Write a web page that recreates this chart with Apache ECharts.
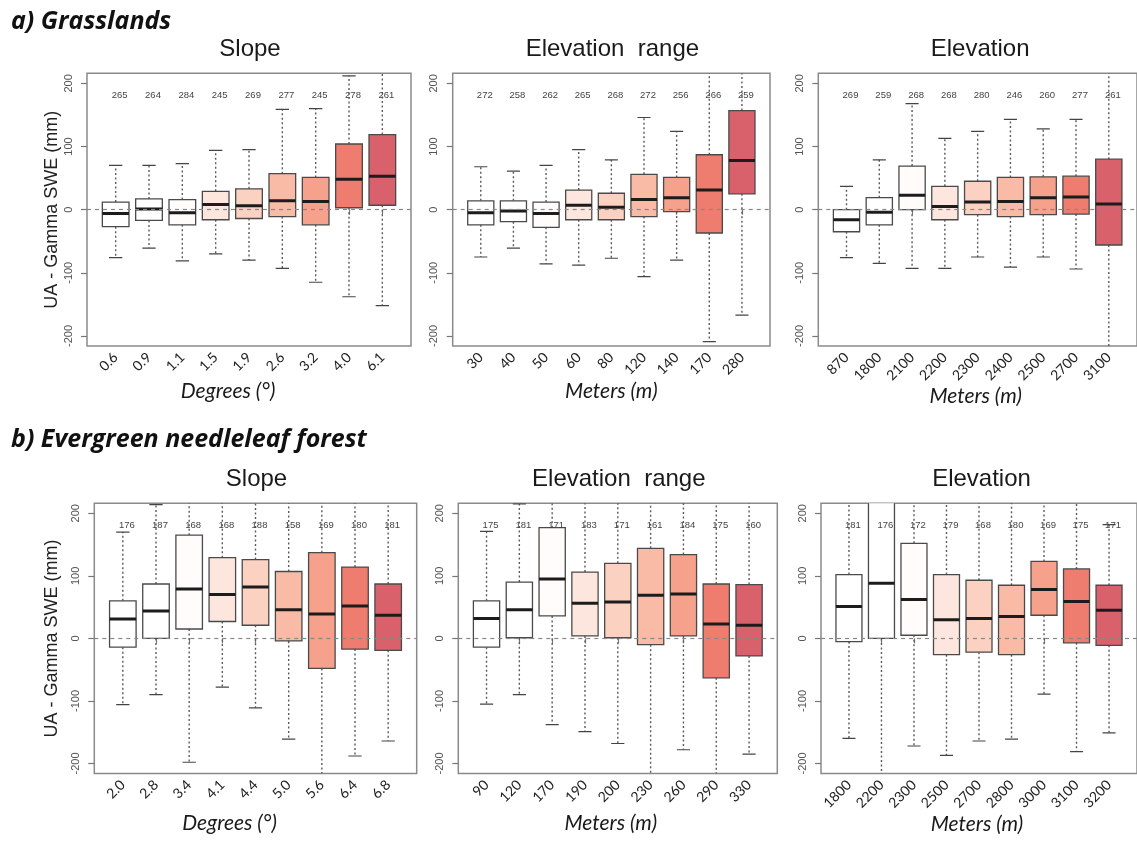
<!DOCTYPE html>
<html>
<head>
<meta charset="utf-8">
<script src="https://cdn.jsdelivr.net/npm/echarts@6.0.0/dist/echarts.min.js"></script>
<style>
  html, body { margin: 0; padding: 0; background: #fff; }
  #chart-container { width: 1137px; height: 842px; }
</style>
</head>
<body>
<div id="chart-container"></div>
<script>
// five-number summaries: [lower whisker, q1, median, q3, upper whisker]
// whiskers running off the plot are given as +/-260 and get clipped
const grassSlopeCats = ['0.6', '0.9', '1.1', '1.5', '1.9', '2.6', '3.2', '4.0', '6.1'];
const grassSlopeStats = [
  [-76, -27, -6, 12, 70],
  [-61, -17, 1, 17, 70],
  [-81, -24, -5, 16, 73],
  [-70, -16, 8, 29, 94],
  [-80, -14, 6, 33, 95],
  [-93, -11, 14, 57, 159],
  [-115, -24, 13, 51, 160],
  [-138, 3, 48, 104, 212],
  [-152, 7, 53, 119, 260],
];
const grassSlopeN = [265, 264, 284, 245, 269, 277, 245, 278, 261];

const grassRangeCats = ['30', '40', '50', '60', '80', '120', '140', '170', '280'];
const grassRangeStats = [
  [-75, -24, -5, 14, 68],
  [-61, -19, -2, 14, 61],
  [-86, -28, -6, 12, 70],
  [-88, -16, 7, 31, 95],
  [-77, -16, 4, 26, 79],
  [-106, -11, 16, 56, 146],
  [-80, -3, 19, 51, 124],
  [-209, -37, 31, 87, 260],
  [-167, 25, 78, 157, 260],
];
const grassRangeN = [272, 258, 262, 265, 268, 272, 256, 266, 259];

const grassElevCats = ['870', '1800', '2100', '2200', '2300', '2400', '2500', '2700', '3100'];
const grassElevStats = [
  [-76, -35, -16, 0, 37],
  [-85, -24, -4, 19, 79],
  [-93, 0, 23, 69, 168],
  [-93, -16, 5, 37, 113],
  [-75, -8, 12, 45, 124],
  [-91, -11, 13, 51, 143],
  [-75, -8, 19, 52, 128],
  [-94, -7, 20, 53, 143],
  [-260, -56, 9, 80, 260],
];
const grassElevN = [269, 259, 268, 268, 280, 246, 260, 277, 261];

const forestSlopeCats = ['2.0', '2.8', '3.4', '4.1', '4.4', '5.0', '5.6', '6.4', '6.8'];
const forestSlopeStats = [
  [-106, -14, 31, 60, 170],
  [-90, 0, 44, 87, 214],
  [-198, 15, 79, 165, 260],
  [-78, 27, 70, 129, 260],
  [-111, 21, 82, 126, 260],
  [-161, -4, 46, 107, 260],
  [-260, -48, 39, 137, 260],
  [-188, -17, 52, 114, 260],
  [-164, -19, 37, 87, 260],
];
const forestSlopeN = [176, 187, 168, 168, 188, 158, 169, 180, 181];

const forestRangeCats = ['90', '120', '170', '190', '200', '230', '260', '290', '330'];
const forestRangeStats = [
  [-105, -14, 32, 60, 171],
  [-90, 1, 46, 90, 215],
  [-138, 36, 95, 177, 260],
  [-149, 4, 56, 106, 260],
  [-168, 1, 58, 120, 260],
  [-260, -10, 69, 144, 260],
  [-178, 4, 71, 134, 260],
  [-260, -63, 23, 87, 260],
  [-185, -28, 21, 86, 260],
];
const forestRangeN = [175, 181, 171, 183, 171, 161, 184, 175, 160];

const forestElevCats = ['1800', '2200', '2300', '2500', '2700', '2800', '3000', '3100', '3200'];
const forestElevStats = [
  [-160, -5, 51, 102, 260],
  [-260, 0, 88, 240, 260],
  [-172, 5, 62, 152, 260],
  [-187, -26, 30, 102, 260],
  [-164, -22, 32, 93, 260],
  [-161, -26, 35, 85, 260],
  [-89, 37, 78, 123, 260],
  [-181, -7, 59, 111, 260],
  [-151, -11, 45, 85, 182],
];
const forestElevN = [181, 176, 172, 179, 168, 180, 169, 175, 171];

const yTicks = [-200, -100, 0, 100, 200];
const boxColors = ['#ffffff', '#ffffff', '#fffcfb', '#fde6de', '#fbd2c2', '#f9bba6', '#f5a18b', '#ef7d6f', '#d8616c'];

const YMAX = 216;
const COUNT_Y = 181;
const BOX_W = 0.8;

const panels = [
  { cats: grassSlopeCats, stats: grassSlopeStats, n: grassSlopeN, title: 'Slope',
    rect: { left: 87, top: 73.3, width: 324, height: 272.7 },
    xName: 'Degrees (°)', xGap: 35, xPad: [0, 42, 0, 0], yName: 'UA - Gamma SWE (mm)', yGap: 26 },
  { cats: grassRangeCats, stats: grassRangeStats, n: grassRangeN, title: 'Elevation  range',
    rect: { left: 452.7, top: 73.3, width: 317.3, height: 272.7 },
    xName: 'Meters (m)', xGap: 35, xPad: 0 },
  { cats: grassElevCats, stats: grassElevStats, n: grassElevN, title: 'Elevation',
    rect: { left: 818.3, top: 73.3, width: 321.7, height: 272.7 },
    xName: 'Meters (m)', xGap: 35, xPad: [0, 4, 0, 0] },
  { cats: forestSlopeCats, stats: forestSlopeStats, n: forestSlopeN, title: 'Slope',
    rect: { left: 94.3, top: 503.3, width: 322.4, height: 270.2 },
    xName: 'Degrees (°)', xGap: 39, xPad: [0, 52, 0, 0], yName: 'UA - Gamma SWE (mm)', yGap: 33 },
  { cats: forestRangeCats, stats: forestRangeStats, n: forestRangeN, title: 'Elevation  range',
    rect: { left: 458.3, top: 503.3, width: 319, height: 270.2 },
    xName: 'Meters (m)', xGap: 39, xPad: [0, 14, 0, 0] },
  { cats: forestElevCats, stats: forestElevStats, n: forestElevN, title: 'Elevation',
    rect: { left: 821, top: 503.3, width: 319, height: 270.2 },
    xName: 'Meters (m)', xGap: 39, xPad: [0, 4, 0, 0] },
];

const renderBox = (params, api) => {
  const x = api.value(0);
  const lo = api.coord([x, api.value(1)]);
  const q1 = api.coord([x, api.value(2)]);
  const med = api.coord([x, api.value(3)]);
  const q3 = api.coord([x, api.value(4)]);
  const hi = api.coord([x, api.value(5)]);
  const lab = api.coord([x, COUNT_Y]);
  const w = api.size([BOX_W, 0])[0];
  const cx = med[0];
  const half = w / 2;
  const cap = w / 4;
  const dotted = { stroke: '#5a5a5a', lineWidth: 1.4, lineDash: [2, 2.5] };
  const solid = { stroke: '#444', lineWidth: 1.2 };
  return {
    type: 'group',
    children: [
      { type: 'line', shape: { x1: cx, y1: q3[1], x2: cx, y2: hi[1] }, style: dotted },
      { type: 'line', shape: { x1: cx, y1: q1[1], x2: cx, y2: lo[1] }, style: dotted },
      { type: 'line', shape: { x1: cx - cap, y1: hi[1], x2: cx + cap, y2: hi[1] }, style: solid },
      { type: 'line', shape: { x1: cx - cap, y1: lo[1], x2: cx + cap, y2: lo[1] }, style: solid },
      {
        type: 'rect',
        shape: { x: cx - half, y: q3[1], width: w, height: q1[1] - q3[1] },
        style: { fill: boxColors[params.dataIndex], stroke: '#4a4a4a', lineWidth: 1.3 },
      },
      {
        type: 'line',
        shape: { x1: cx - half, y1: med[1], x2: cx + half, y2: med[1] },
        style: { stroke: '#1c1c1c', lineWidth: 3 },
      },
      {
        type: 'text',
        x: cx + 4,
        y: lab[1],
        style: {
          text: String(api.value(6)),
          fill: '#444',
          font: '9.5px "Liberation Sans", Arial, sans-serif',
          align: 'center',
          verticalAlign: 'middle',
        },
      },
    ],
  };
};

const initChart = () => {
  const dom = document.getElementById('chart-container');
  return echarts.init(dom, null, { renderer: 'canvas' });
};

const buildOption = () => {
  const grid = [];
  const xAxis = [];
  const yAxis = [];
  const series = [];
  const title = [
    { text: 'a) Grasslands', left: 11, top: 21.7 },
    { text: 'b) Evergreen needleleaf forest', left: 11, top: 440 },
  ].map((t) => ({
    ...t,
    padding: 0,
    textAlign: 'left',
    textVerticalAlign: 'middle',
    textStyle: { fontFamily: 'Open Sans', fontStyle: 'italic', fontWeight: 'bold', fontSize: 25, color: '#111' },
  }));

  panels.forEach((p, i) => {
    const ticksX = p.cats.map((c, k) => k + 1);
    title.push({
      text: p.title,
      left: p.rect.left + p.rect.width / 2 + 1,
      top: p.rect.top - 23.5,
      padding: 0,
      textAlign: 'center',
      textVerticalAlign: 'middle',
      textStyle: { fontFamily: 'Liberation Sans', fontWeight: 'normal', fontSize: 24, color: '#1a1a1a' },
    });
    grid.push({
      ...p.rect,
      show: true,
      borderColor: '#8a8a8a',
      borderWidth: 1.5,
      backgroundColor: 'transparent',
    });
    xAxis.push({
      type: 'value',
      gridIndex: i,
      min: 0.14,
      max: 9.86,
      axisLine: { show: false },
      splitLine: { show: false },
      axisTick: { customValues: ticksX, length: 5, lineStyle: { color: '#777', width: 1.2 } },
      axisLabel: {
        customValues: ticksX,
        formatter: (v) => p.cats[Math.round(v) - 1],
        rotate: 45,
        margin: 9,
        fontFamily: 'Lato',
        fontSize: 14,
        color: '#222',
      },
      name: p.xName,
      nameLocation: 'middle',
      nameGap: p.xGap,
      nameTextStyle: {
        fontFamily: 'Lato',
        fontStyle: 'italic',
        fontSize: 21,
        color: '#1a1a1a',
        padding: p.xPad,
      },
    });
    yAxis.push({
      type: 'value',
      gridIndex: i,
      min: -YMAX,
      max: YMAX,
      axisLine: { show: false },
      splitLine: { show: false },
      axisTick: { show: true, customValues: yTicks, length: 6, lineStyle: { color: '#777', width: 1.2 } },
      axisLabel: {
        customValues: yTicks,
        rotate: 90,
        margin: 13,
        fontFamily: 'Liberation Sans',
        fontSize: 11,
        color: '#555',
      },
      name: p.yName || '',
      nameLocation: 'middle',
      nameRotate: 90,
      nameGap: p.yGap || 0,
      nameTextStyle: { fontFamily: 'Liberation Sans', fontSize: 18, color: '#222' },
    });
    series.push({
      type: 'custom',
      xAxisIndex: i,
      yAxisIndex: i,
      clip: true,
      z: 2,
      renderItem: renderBox,
      encode: { x: 0, y: [1, 2, 3, 4, 5] },
      data: p.stats.map((s, k) => [k + 1, ...s, p.n[k]]),
      markLine: {
        silent: true,
        symbol: 'none',
        z: 5,
        label: { show: false },
        lineStyle: { type: [4, 4], color: '#888', width: 1.2 },
        data: [{ yAxis: 0 }],
      },
    });
  });

  return { backgroundColor: '#fff', animation: false, title, grid, xAxis, yAxis, series };
};

const chart = initChart();
chart.setOption(buildOption());
</script>
</body>
</html>
